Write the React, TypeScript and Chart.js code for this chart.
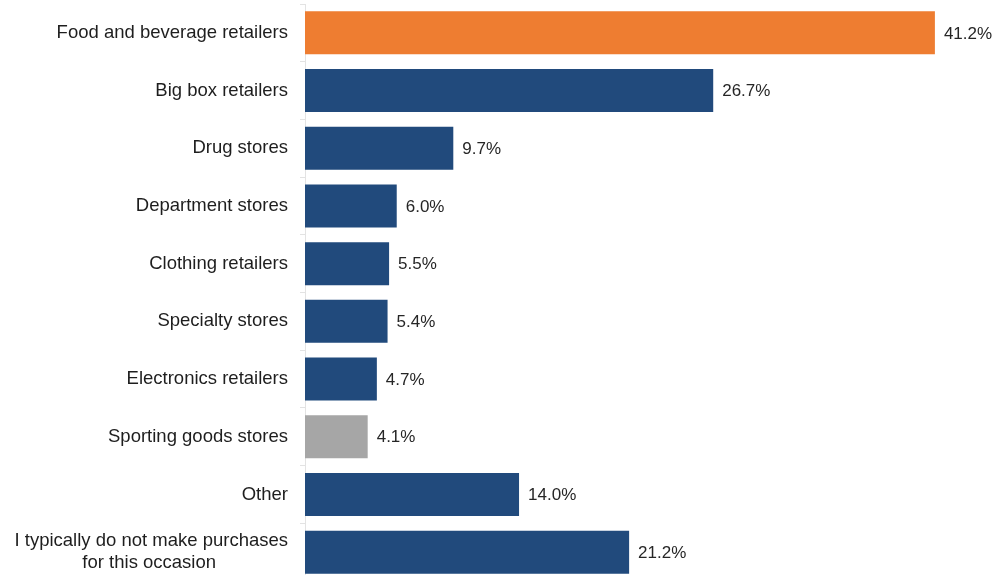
import React, { useEffect, useRef } from "react";
import { Chart, registerables } from "chart.js";

Chart.register(...registerables);

const categories: (string | string[])[] = [
  "Food and beverage retailers",
  "Big box retailers",
  "Drug stores",
  "Department stores",
  "Clothing retailers",
  "Specialty stores",
  "Electronics retailers",
  "Sporting goods stores",
  "Other",
  ["I typically do not make purchases", "for this occasion"],
];

const values: number[] = [41.2, 26.7, 9.7, 6.0, 5.5, 5.4, 4.7, 4.1, 14.0, 21.2];

const NAVY = "#214a7c";
const ORANGE = "#ee7d31";
const GREY = "#a6a6a6";
const barColors = values.map((_, i) => (i === 0 ? ORANGE : i === 7 ? GREY : NAVY));

const FONT_FAMILY = 'Arial, "Liberation Sans", sans-serif';
const LABEL_SIZE = 18.5;
const VALUE_SIZE = 17;

const measureCtx = (() => {
  const c = document.createElement("canvas");
  const ctx = c.getContext("2d")!;
  ctx.font = `${LABEL_SIZE}px ${FONT_FAMILY}`;
  return ctx;
})();

// centre shorter lines of a multi-line label under the widest line (right aligned axis)
function centreLines(label: string | string[]): string | string[] {
  if (!Array.isArray(label)) return label;
  const widths = label.map((l) => measureCtx.measureText(l).width);
  const maxW = Math.max(...widths);
  const sp = measureCtx.measureText(" ").width;
  return label.map((l, i) => {
    const n = Math.round((maxW - widths[i]) / 2 / sp);
    return l + " ".repeat(n);
  });
}

const valueLabels = {
  id: "valueLabels",
  afterDatasetsDraw(chart: any) {
    const ctx = chart.ctx;
    const meta = chart.getDatasetMeta(0);
    ctx.save();
    ctx.font = `${VALUE_SIZE}px ${FONT_FAMILY}`;
    ctx.fillStyle = "#262626";
    ctx.textAlign = "left";
    ctx.textBaseline = "middle";
    meta.data.forEach((bar: any, i: number) => {
      ctx.fillText(values[i].toFixed(1) + "%", bar.x + 9, bar.y + 1);
    });
    ctx.restore();
  },
};

export default function App() {
  const ref = useRef<HTMLCanvasElement>(null);

  useEffect(() => {
    if (!ref.current) return;
    const chart = new Chart(ref.current, {
      type: "bar",
      data: {
        labels: categories,
        datasets: [
          {
            data: values,
            backgroundColor: barColors,
            borderWidth: 0,
            categoryPercentage: 1,
            barPercentage: 0.745,
          },
        ],
      },
      options: {
        indexAxis: "y",
        animation: false,
        responsive: true,
        maintainAspectRatio: false,
        layout: { padding: { top: 4, right: 6, bottom: 0, left: 0 } },
        plugins: {
          legend: { display: false },
          tooltip: { enabled: false },
        },
        scales: {
          x: {
            display: false,
            min: 0,
            max: 45,
          },
          y: {
            afterFit: (s: any) => {
              s.width = 305;
              s.paddingTop = 0;
              s.paddingBottom = 0;
            },
            grid: {
              display: true,
              drawOnChartArea: false,
              drawTicks: true,
              tickLength: 5,
              color: "#e3e3e3",
              offset: true,
            },
            border: { display: true, color: "#e3e3e3", width: 1 },
            ticks: {
              padding: 12,
              color: "#1e1e1e",
              font: { family: FONT_FAMILY, size: LABEL_SIZE, lineHeight: 1.2 },
              callback: function (this: any, _v: any, i: number) {
                return centreLines(categories[i]);
              },
            },
          },
        },
      },
      plugins: [valueLabels],
    });
    return () => chart.destroy();
  }, []);

  return (
    <div
      style={{
        position: "fixed",
        top: 0,
        left: 0,
        width: 999,
        height: 581,
        background: "#fff",
      }}
    >
      <canvas ref={ref} />
    </div>
  );
}
